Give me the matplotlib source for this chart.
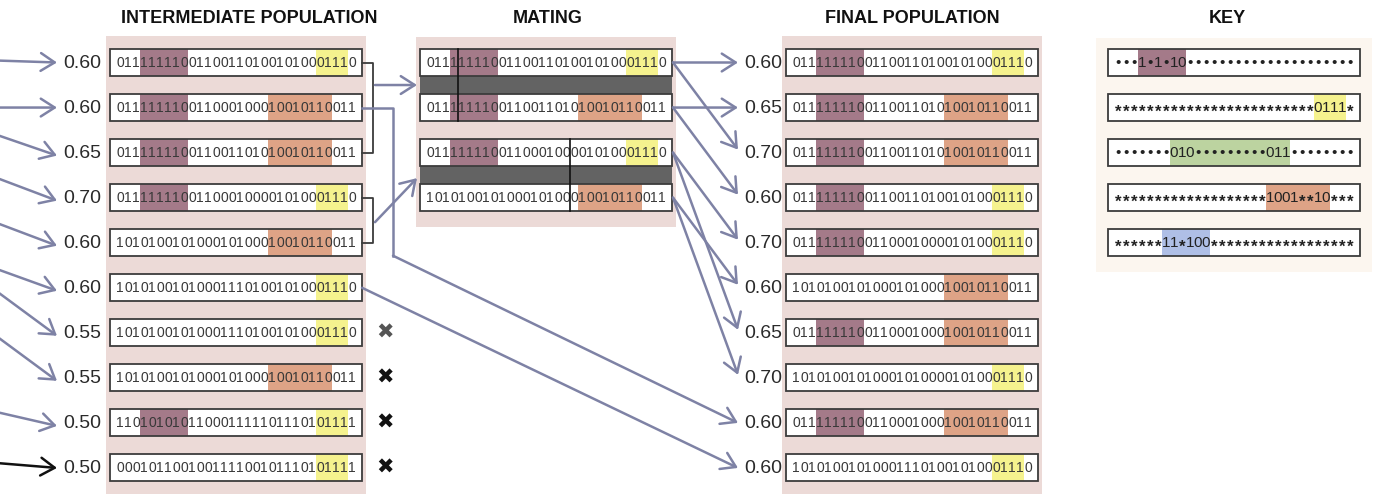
import numpy as np
import matplotlib.pyplot as plt
from matplotlib.patches import Rectangle

# ---- data -------------------------------------------------------------
titles = ["INTERMEDIATE POPULATION", "MATING", "FINAL POPULATION", "KEY"]

inter_fitness = [0.60, 0.60, 0.65, 0.70, 0.60, 0.60, 0.55, 0.55, 0.50, 0.50]
inter_strings = [
    "011111110011001101001010001110",
    "011111110011000100010010110011",
    "011111110011001101010010110011",
    "011111110011000100001010001110",
    "101010010100010100010010110011",
    "101010010100011101001010001110",
    "101010010100011101001010001110",
    "101010010100010100010010110011",
    "110101010110001111101110101111",
    "000101100100111100101110101111",
]
inter_removed = [False, False, False, False, False, False, True, True, True, True]

# intermediate rows that mate, crossover point of each pair
pairs = [(0, 2), (3, 4)]
crossover_points = [4, 18]
# intermediate rows copied straight to the final population
survivors = [(1, 8), (5, 9)]

final_fitness = [0.60, 0.65, 0.70, 0.60, 0.70, 0.60, 0.65, 0.70, 0.60, 0.60]
final_strings = [
    "011111110011001101001010001110",
    "011111110011001101010010110011",
    "011111110011001101010010110011",
    "011111110011001101001010001110",
    "011111110011000100001010001110",
    "101010010100010100010010110011",
    "011111110011000100010010110011",
    "101010010100010100001010001110",
    "011111110011000100010010110011",
    "101010010100011101001010001110",
]
# (pair, member of pair, final row)
offspring_links = [(0, 0, 0), (0, 0, 2), (0, 1, 1), (0, 1, 3),
                   (1, 0, 4), (1, 0, 6), (1, 1, 5), (1, 1, 7)]

key_schemas = [
    "•••1•1•10•••••••••••••••••••••",
    "*************************0111*",
    "•••••••010•••••••••011••••••••",
    "*******************1001**10***",
    "******11*100******************",
]
key_colors = ["#a47a89", "#f5f28e", "#bcd3a0", "#dea386", "#afbfe6"]

# ---- layout -----------------------------------------------------------
W, H = 1379, 498
ROW0, DY = 62.5, 45.05
BOX_W, BOX_H = 252, 27
CW, PAD = 8.0, 6.0
INTER_X, MATE_X, FINAL_X, KEY_X = 110, 420, 786, 1108
ARROW = "#7e82a5"
WILD = "*•"
FONT = ["Liberation Sans", "DejaVu Sans"]

plt.rcParams["font.family"] = FONT

fig = plt.figure(figsize=(W / 100, H / 100), dpi=100)
ax = fig.add_axes([0, 0, 1, 1])
ax.set_xlim(0, W)
ax.set_ylim(H, 0)
ax.axis("off")


def row_y(i):
    return ROW0 + DY * i


def span(schema):
    fixed = [i for i, c in enumerate(schema) if c not in WILD]
    return fixed[0], fixed[-1] + 1


def matches(s, schema):
    return all(c in WILD or c == b for c, b in zip(schema, s))


def highlights(s):
    return [(span(sc), col) for sc, col in zip(key_schemas, key_colors) if matches(s, sc)]


def draw_string(x0, yc, s, marks, fs=10, color="#383838"):
    ax.add_patch(Rectangle((x0, yc - BOX_H / 2), BOX_W, BOX_H, fc="white", lw=0, zorder=2))
    for (a, b), col in marks:
        ax.add_patch(Rectangle((x0 + PAD + a * CW, yc - BOX_H / 2), (b - a) * CW, BOX_H,
                               fc=col, lw=0, zorder=3))
    for i, ch in enumerate(s):
        if ch == "*":
            ax.text(x0 + PAD + (i + 0.5) * CW, yc + 4.5, ch, ha="center", va="center",
                    fontsize=fs + 1, fontweight="bold", color=color, zorder=4)
        else:
            ax.text(x0 + PAD + (i + 0.5) * CW, yc + 0.5, ch, ha="center", va="center",
                    fontsize=fs, color=color, zorder=4)
    ax.add_patch(Rectangle((x0, yc - BOX_H / 2), BOX_W, BOX_H, fill=False,
                           ec="#3c3c3c", lw=1.3, zorder=5))


def arrow(p0, p1, color=ARROW, lw=1.8):
    ax.annotate("", xy=p1, xytext=p0,
                arrowprops=dict(arrowstyle="->,head_length=0.5,head_width=0.32",
                                color=color, lw=lw, shrinkA=0, shrinkB=0,
                                mutation_scale=20), zorder=6)


# background strips
bg = "#ecdad7"
ax.add_patch(Rectangle((INTER_X - 4, 36), BOX_W + 8, 458, fc=bg, lw=0, zorder=1))
ax.add_patch(Rectangle((MATE_X - 4, 37), BOX_W + 8, 190, fc=bg, lw=0, zorder=1))
ax.add_patch(Rectangle((FINAL_X - 4, 36), BOX_W + 8, 458, fc=bg, lw=0, zorder=1))
ax.add_patch(Rectangle((KEY_X - 12, 38), BOX_W + 24, 234, fc="#fcf6ef", lw=0, zorder=1))

# titles
tkw = dict(ha="center", va="center", fontsize=13, fontweight="bold", color="#111111")
ax.text(INTER_X + BOX_W / 2 + 13, 18, titles[0], **tkw)
ax.text(MATE_X + BOX_W / 2 + 2, 18, titles[1], **tkw)
ax.text(FINAL_X + BOX_W / 2, 18, titles[2], **tkw)
ax.text(KEY_X + BOX_W / 2 - 7, 18, titles[3], **tkw)

# intermediate population
rise = [2, 0, 21, 23, 23, 22, 45, 45, 14, 5]
for i, (f, s) in enumerate(zip(inter_fitness, inter_strings)):
    y = row_y(i)
    draw_string(INTER_X, y, s, highlights(s))
    ax.text(INTER_X - 9, y + 1, f"{f:.2f}", ha="right", va="center", fontsize=14,
            color="#2a2a2a")
    tip_y = y + (3 if rise[i] > 5 else 0)
    arrow((-4, tip_y - rise[i]), (57, tip_y), color="#111111" if i == len(inter_fitness) - 1 else ARROW)
    if inter_removed[i]:
        ax.text(INTER_X + BOX_W + 23, y, "✖", ha="center", va="center", fontsize=15,
                family="DejaVu Sans", color="#555555" if i == 6 else "#111111")

# mating
for k, ((a, b), cp) in enumerate(zip(pairs, crossover_points)):
    ya, yb = row_y(2 * k), row_y(2 * k + 1)
    ax.add_patch(Rectangle((MATE_X, ya + BOX_H / 2), BOX_W, yb - ya - BOX_H,
                           fc="#636363", lw=0, zorder=2))
    for slot, src in zip((ya, yb), (a, b)):
        s = inter_strings[src]
        draw_string(MATE_X, slot, s, highlights(s))
    xc = MATE_X + PAD + cp * CW
    ax.plot([xc, xc], [ya - BOX_H / 2, yb + BOX_H / 2], color="#111111", lw=1.2, zorder=6)
    # bracket from the intermediate population
    y1, y2 = row_y(a), row_y(b)
    bx = INTER_X + BOX_W + 11
    ax.plot([INTER_X + BOX_W, bx, bx, INTER_X + BOX_W], [y1, y1, y2, y2],
            color="#3c3c3c", lw=1.3, zorder=6)
    band = (ya + yb) / 2
    start = band if y1 <= band <= y2 else (y1 + y2) / 2 + 2
    arrow((bx + 2, start), (MATE_X - 3, band + (0 if start == band else 3)))

# final population
for i, (f, s) in enumerate(zip(final_fitness, final_strings)):
    y = row_y(i)
    draw_string(FINAL_X, y, s, highlights(s))
    ax.text(FINAL_X - 4, y + 1, f"{f:.2f}", ha="right", va="center", fontsize=14,
            color="#2a2a2a")

for k, m, j in offspring_links:
    y0 = row_y(2 * k + m)
    y1 = row_y(j)
    arrow((MATE_X + BOX_W + 1, y0), (738, y1 - (0 if y1 == y0 else 3)))

# survivors go straight across
for n, (i, j) in enumerate(survivors):
    y0 = row_y(i)
    if n == 0:
        vx = INTER_X + BOX_W + 31
        vy = row_y(4) + 13
        ax.plot([INTER_X + BOX_W, vx, vx], [y0, y0, vy], color=ARROW, lw=1.8, zorder=6)
        arrow((vx, vy), (738, row_y(j)))
    else:
        arrow((INTER_X + BOX_W, y0), (738, row_y(j)))

# key
for i, (sc, col) in enumerate(zip(key_schemas, key_colors)):
    draw_string(KEY_X, row_y(i), sc, [(span(sc), col)], fs=11, color="#222222")

fig.savefig("out.png", dpi=100, facecolor="white")
